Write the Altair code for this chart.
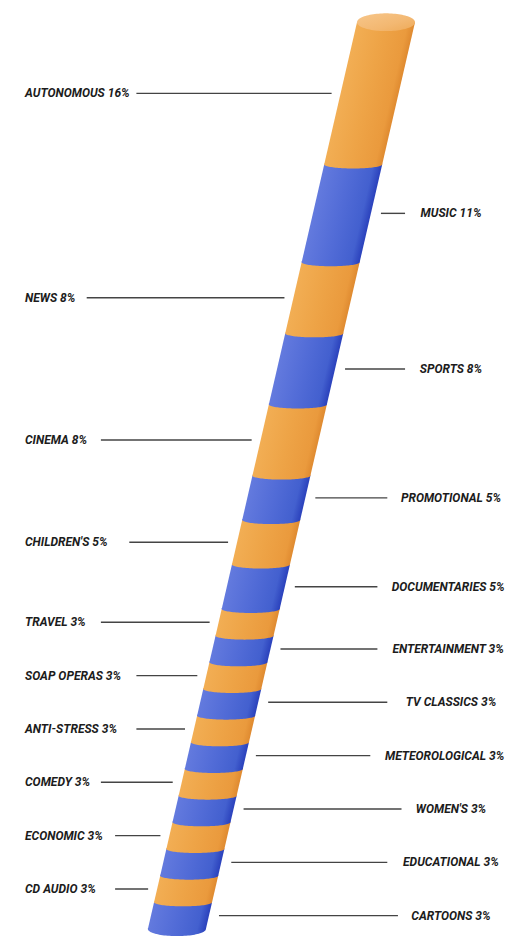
import altair as alt
import numpy as np
import pandas as pd

# ---- data ----
labels = ["AUTONOMOUS", "MUSIC", "NEWS", "SPORTS", "CINEMA", "PROMOTIONAL",
          "CHILDREN'S", "DOCUMENTARIES", "TRAVEL", "ENTERTAINMENT", "SOAP OPERAS",
          "TV CLASSICS", "ANTI-STRESS", "METEOROLOGICAL", "COMEDY", "WOMEN'S",
          "ECONOMIC", "EDUCATIONAL", "CD AUDIO", "CARTOONS"]
shares = [16, 11, 8, 8, 8, 5, 5, 5, 3, 3, 3, 3, 3, 3, 3, 3, 3, 3, 3, 3]

# ---- styling / geometry constants ----
W, H = 498, 929
Y_DOMAIN = [-1.6, 102.0]
TOP_X = 378.0        # lateral position of the tube axis at 0 %
SLANT = 2.05         # lateral drift per percent
R = 29.0             # tube half width
BULGE = 0.45         # band boundary curvature (percent units)
BOTTOM = 0.8
CAP = 1.0
LEFT_X = 17.0
RIGHT_CX = 443.0
RIGHT_MAX = 497.0
CHAR_W = 7.1
FONT = "Roboto"

ORANGE_STOPS = [("#f2ae54", 0.0), ("#eea447", 0.45), ("#ea9a3d", 0.88), ("#df8a30", 1.0)]
BLUE_STOPS = [("#637ade", 0.0), ("#526cd7", 0.45), ("#4360cf", 0.85), ("#2a41bc", 1.0)]
CAP_STOPS = [("#f7c68a", 0.0), ("#f3b872", 0.6), ("#eeaa58", 1.0)]

xscale = alt.Scale(domain=[0, W], range=[0, W], nice=False, zero=False)
yscale = alt.Scale(domain=Y_DOMAIN, reverse=True, nice=False, zero=False)


def xc(c):
    return TOP_X - SLANT * c


def stops(lst):
    return [alt.GradientStop(color=c, offset=o) for c, o in lst]


ends = np.cumsum(shares).astype(float)
starts = ends - np.array(shares, dtype=float)
mids = (starts + ends) / 2

layers = []

# ---- tube bands (parallelograms) ----
for i, (c0, c1) in enumerate(zip(starts, ends)):
    st = ORANGE_STOPS if i % 2 == 0 else BLUE_STOPS
    shift = SLANT * (c1 - c0)
    wb = 2 * R + shift
    r = shift / wb
    t = (2 * R / wb) / (1 + r * r)
    grad = alt.LinearGradient(gradient="linear", stops=stops(st),
                              x1=0, y1=1, x2=float(t), y2=float(1 + t * r))
    df = pd.DataFrame({"c": [c0, c1],
                       "xl": [xc(c0) - R, xc(c1) - R],
                       "xr": [xc(c0) + R, xc(c1) + R]})
    layers.append(
        alt.Chart(df).mark_area(orient="horizontal", color=grad).encode(
            y=alt.Y("c:Q", scale=yscale, axis=None),
            x=alt.X("xl:Q", scale=xscale, axis=None),
            x2="xr:Q",
        )
    )

# ---- curved lower edge of each band ----
theta = np.linspace(0, np.pi, 49)
rows = {0: [], 1: []}
for i, c1 in enumerate(ends):
    b = BOTTOM if i == len(ends) - 1 else BULGE
    for th in theta:
        rows[i % 2].append({"band": i, "x": xc(c1) + R * np.cos(th),
                            "y": c1 - 0.1, "y2": c1 + b * np.sin(th)})
for g, st in ((0, ORANGE_STOPS), (1, BLUE_STOPS)):
    grad = alt.LinearGradient(gradient="linear", stops=stops(st), x1=0, y1=0, x2=1, y2=0)
    layers.append(
        alt.Chart(pd.DataFrame(rows[g])).mark_area(color=grad).encode(
            x=alt.X("x:Q", scale=xscale, axis=None),
            y=alt.Y("y:Q", scale=yscale, axis=None),
            y2="y2:Q",
            detail="band:N",
        )
    )

# ---- top cap ----
cap = pd.DataFrame({"x": xc(0) + R * np.cos(theta),
                    "y": -CAP * np.sin(theta),
                    "y2": CAP * np.sin(theta)})
layers.append(
    alt.Chart(cap).mark_area(
        color=alt.LinearGradient(gradient="linear", stops=stops(CAP_STOPS), x1=0, y1=0, x2=1, y2=1)
    ).encode(
        x=alt.X("x:Q", scale=xscale, axis=None),
        y=alt.Y("y:Q", scale=yscale, axis=None),
        y2="y2:Q",
    )
)

# ---- labels and leader lines ----
texts = [f"{l} {s}%" for l, s in zip(labels, shares)]
lab = pd.DataFrame({"text": texts, "mid": mids,
                    "side": ["L" if i % 2 == 0 else "R" for i in range(len(texts))]})
lab["n"] = lab["text"].str.len()
left = lab[lab.side == "L"].copy()
right = lab[lab.side == "R"].copy()
left["tx"] = LEFT_X
left["lx0"] = LEFT_X + left["n"] * CHAR_W + 12
left["lx1"] = xc(left["mid"]) - R - 9
right["tx"] = np.minimum(RIGHT_CX, RIGHT_MAX - right["n"] * CHAR_W / 2)
right["lx0"] = xc(right["mid"]) + R + 10
right["lx1"] = right["tx"] - right["n"] * CHAR_W / 2 - 14

for d in (left, right):
    layers.append(
        alt.Chart(d).mark_rule(color="#444444", strokeWidth=1.4).encode(
            x=alt.X("lx0:Q", scale=xscale, axis=None),
            x2="lx1:Q",
            y=alt.Y("mid:Q", scale=yscale, axis=None),
        )
    )

text_style = dict(font=FONT, fontSize=12, fontStyle="italic", fontWeight="bold",
                  color="#1c1c1c", baseline="middle")
layers.append(
    alt.Chart(left).mark_text(align="left", **text_style).encode(
        x=alt.X("tx:Q", scale=xscale, axis=None),
        y=alt.Y("mid:Q", scale=yscale, axis=None),
        text="text:N",
    )
)
layers.append(
    alt.Chart(right).mark_text(align="center", **text_style).encode(
        x=alt.X("tx:Q", scale=xscale, axis=None),
        y=alt.Y("mid:Q", scale=yscale, axis=None),
        text="text:N",
    )
)

chart = alt.layer(*layers).properties(
    width=W, height=H, padding=0,
    autosize=alt.AutoSizeParams(type="fit", contains="padding"),
    background="white",
).configure_view(stroke=None)

chart.save("out.html", embed_options={"renderer": "svg", "actions": False})
